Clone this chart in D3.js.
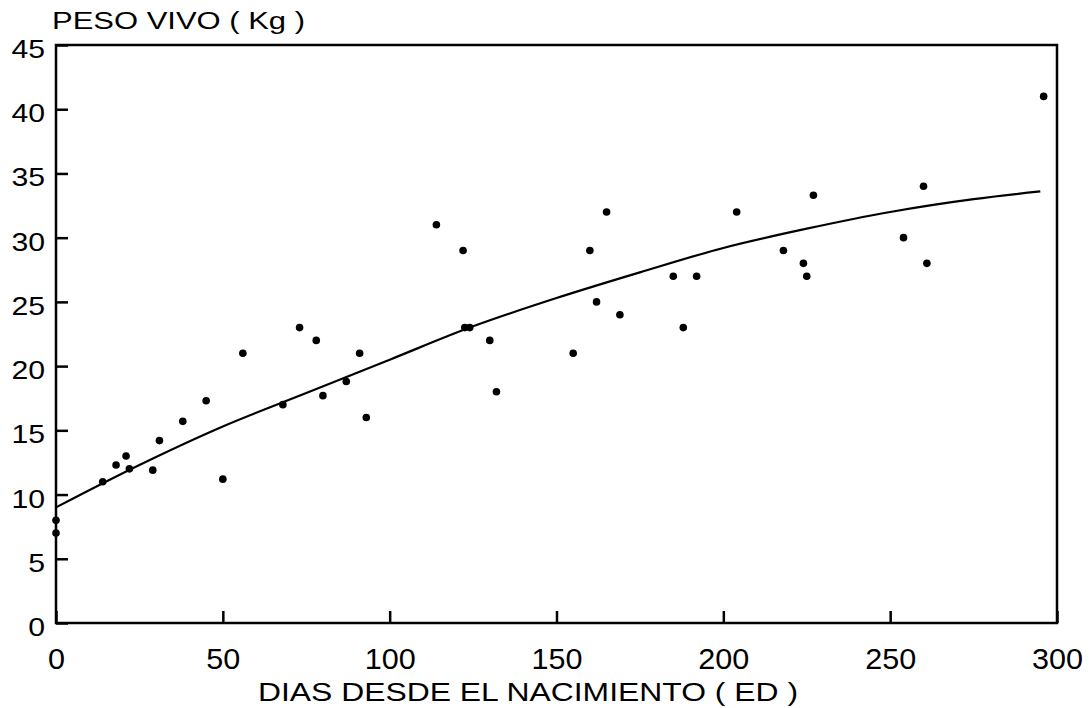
<!DOCTYPE html>
<html>
<head>
<meta charset="utf-8">
<script src="https://cdn.jsdelivr.net/npm/d3@7"></script>
<style>
  body { margin: 0; background: #fff; }
  text { font-family: "Liberation Sans", Arial, sans-serif; fill: #000; }
</style>
</head>
<body>
<div id="chart"></div>
<script>
// observed points (days, live weight kg)
const diasObs = [0, 0, 14, 18, 21, 22, 29, 31, 38, 45, 50, 56, 68, 73, 78, 80, 87, 91, 93,
  114, 122, 122.5, 124, 130, 132, 155, 160, 162, 165, 169, 185, 188, 192, 204, 218, 224,
  225, 227, 254, 260, 261, 296];
const pesoObs = [8, 7, 11, 12.3, 13, 12, 11.9, 14.2, 15.7, 17.3, 11.2, 21, 17, 23, 22, 17.7,
  18.8, 21, 16, 31, 29, 23, 23, 22, 18, 21, 29, 25, 32, 24, 27, 23, 27, 32, 29, 28, 27, 33.3,
  30, 34, 28, 41];

// fitted curve
const diasCurva = [0, 25, 50, 75, 100, 125, 150, 175, 200, 225, 250, 275, 295];
const pesoCurva = [9.0, 12.3, 15.3, 17.9, 20.5, 23.1, 25.3, 27.3, 29.2, 30.7, 32.0, 33.0, 33.6];

const xTicks = [0, 50, 100, 150, 200, 250, 300];
const yTicks = [0, 5, 10, 15, 20, 25, 30, 35, 40, 45];

const width = 1092;
const height = 708;
const margin = { top: 45, right: 35, bottom: 85, left: 56 };

const svg = d3.select('#chart')
  .append('svg')
  .attr('width', width)
  .attr('height', height);

const xScale = d3.scaleLinear().domain([0, 300]).range([margin.left, width - margin.right]);
const yScale = d3.scaleLinear().domain([0, 45]).range([height - margin.bottom, margin.top]);

// X axis, ticks pointing inward
const xAxis = svg.append('g')
  .attr('transform', `translate(0, ${height - margin.bottom})`)
  .call(d3.axisBottom(xScale).tickValues(xTicks).tickSizeInner(-12).tickSizeOuter(0));
xAxis.select('.domain').remove();
xAxis.selectAll('.tick line')
  .attr('stroke', '#000')
  .attr('stroke-width', 2.5);
xAxis.selectAll('text')
  .attr('y', 46)
  .attr('dy', null)
  .style('font-size', '29px')
  .attr('textLength', (d) => String(d).length * 17)
  .attr('lengthAdjust', 'spacingAndGlyphs');

// Y axis
const yAxis = svg.append('g')
  .attr('transform', `translate(${margin.left}, 0)`)
  .call(d3.axisLeft(yScale).tickValues(yTicks).tickSizeInner(-12).tickSizeOuter(0).tickPadding(11));
yAxis.select('.domain').remove();
yAxis.selectAll('.tick line')
  .attr('stroke', '#000')
  .attr('stroke-width', 2.5);
yAxis.selectAll('text')
  .attr('dy', '0.5em')
  .style('font-size', '25px')
  .attr('textLength', (d) => String(d).length * 16.8)
  .attr('lengthAdjust', 'spacingAndGlyphs');

// frame
svg.append('rect')
  .attr('x', margin.left)
  .attr('y', margin.top)
  .attr('width', width - margin.left - margin.right)
  .attr('height', height - margin.top - margin.bottom)
  .attr('fill', 'none')
  .attr('stroke', '#000')
  .attr('stroke-width', 2.5);

// fitted curve
const line = d3.line()
  .x((d, i) => xScale(diasCurva[i]))
  .y((d) => yScale(d))
  .curve(d3.curveMonotoneX);

svg.append('path')
  .datum(pesoCurva)
  .attr('d', line)
  .attr('fill', 'none')
  .attr('stroke', '#000')
  .attr('stroke-width', 2.2);

// points
svg.append('g')
  .selectAll('circle')
  .data(diasObs)
  .join('circle')
  .attr('cx', (d) => xScale(d))
  .attr('cy', (d, i) => yScale(pesoObs[i]))
  .attr('r', 3.8)
  .attr('fill', '#000');

// titles
svg.append('text')
  .attr('x', 52)
  .attr('y', 29)
  .style('font-size', '23px')
  .attr('textLength', 253)
  .attr('lengthAdjust', 'spacingAndGlyphs')
  .text('PESO VIVO ( Kg )');

svg.append('text')
  .attr('x', 258)
  .attr('y', 701)
  .style('font-size', '25px')
  .attr('textLength', 540)
  .attr('lengthAdjust', 'spacingAndGlyphs')
  .text('DIAS DESDE EL NACIMIENTO ( ED )');
</script>
</body>
</html>
